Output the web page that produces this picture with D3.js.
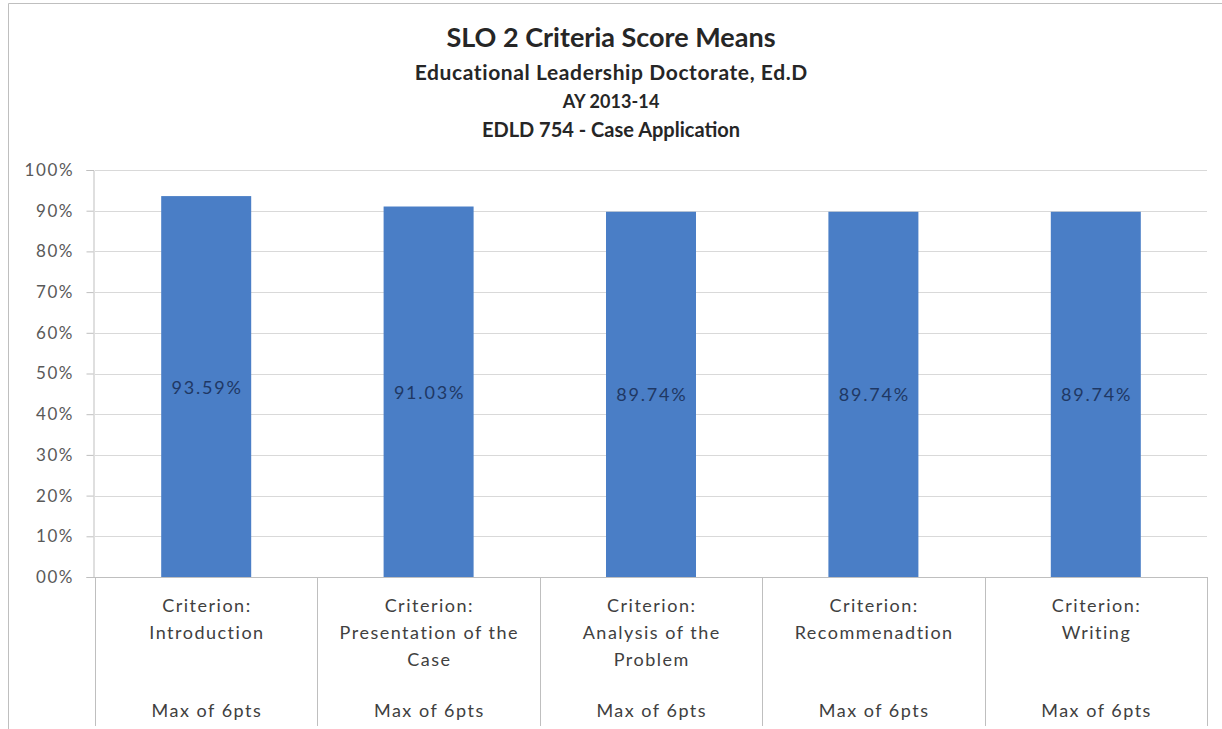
<!DOCTYPE html>
<html><head><meta charset="utf-8">
<script src="https://cdn.jsdelivr.net/npm/d3@7"></script>
<style>
html,body{margin:0;padding:0;background:#fff;}
svg{display:block;font-family:Lato,"Liberation Sans",sans-serif;}
</style></head>
<body><svg id="c" width="1222" height="729"></svg>
<script>
const titleLines = ["SLO 2 Criteria Score Means","Educational Leadership Doctorate, Ed.D","AY 2013-14","EDLD 754 - Case Application"];
const categories = [
  ["Criterion:","Introduction"],
  ["Criterion:","Presentation of the","Case"],
  ["Criterion:","Analysis of the","Problem"],
  ["Criterion:","Recommenadtion"],
  ["Criterion:","Writing"]
];
const subLabels = ["Max of 6pts","Max of 6pts","Max of 6pts","Max of 6pts","Max of 6pts"];
const values = [93.59, 91.03, 89.74, 89.74, 89.74];
const yTicks = [0,10,20,30,40,50,60,70,80,90,100];

const svg = d3.select("#c");
const L = 95, R = 1207, T = 170, B = 577, bottomEnd = 726;

// outer border
svg.append("path").attr("d","M8.5,729 V3.5 H1222").attr("fill","none").attr("stroke","#bfbfbf").attr("stroke-width",1);

// title
const tSizes = [27,21,18,20], tY = [47,80,108,137], tLs = [0,0.6,0.1,0];
titleLines.forEach((t,i)=>{
  svg.append("text").attr("x",611 + tLs[i]/2).attr("y",tY[i]).attr("text-anchor","middle")
    .attr("font-weight","bold").attr("font-size",tSizes[i]).attr("letter-spacing",tLs[i])
    .attr("fill","#262626").text(t);
});

const x = d3.scaleBand().domain(d3.range(values.length)).range([L,R]).paddingInner(0).paddingOuter(0);
const y = d3.scaleLinear().domain([0,100]).range([B,T]);

// gridlines
svg.append("g").selectAll("line").data(yTicks.filter(d=>d>0)).join("line")
  .attr("x1",L).attr("x2",R).attr("y1",d=>Math.round(y(d))+0.5).attr("y2",d=>Math.round(y(d))+0.5)
  .attr("stroke","#d9d9d9").attr("stroke-width",1);

// y axis
const yAxis = d3.axisLeft(y).tickValues(yTicks).tickSize(7).tickPadding(14)
  .tickFormat(d=>String(d).padStart(2,"0")+"%");
const ga = svg.append("g").attr("transform",`translate(${L-1.5},0)`).call(yAxis);
ga.select(".domain").attr("stroke","#bfbfbf");
ga.selectAll(".tick line").attr("stroke","#bfbfbf");
ga.selectAll(".tick text").attr("font-size",17).attr("letter-spacing",1.6).attr("dx",1.6)
  .attr("fill","#595959").attr("font-family","Lato,sans-serif");

// bars
const bw = 90;
svg.append("g").selectAll("rect").data(values).join("rect")
  .attr("x",(d,i)=>x(i)+x.bandwidth()/2-bw/2).attr("width",bw)
  .attr("y",d=>y(d)).attr("height",d=>B-y(d))
  .attr("fill","#4a7ec6");

// bar labels
svg.append("g").selectAll("text").data(values).join("text")
  .attr("x",(d,i)=>x(i)+x.bandwidth()/2+0.9).attr("y",d=>(y(d)+B)/2+7)
  .attr("text-anchor","middle").attr("font-size",18).attr("letter-spacing",1.8).attr("fill","#1f3864")
  .text(d=>d.toFixed(2)+"%");

// x axis line
svg.append("line").attr("x1",L-8).attr("x2",R).attr("y1",B+0.5).attr("y2",B+0.5).attr("stroke","#bfbfbf");
// category dividers
svg.append("g").selectAll("line").data(d3.range(values.length+1)).join("line")
  .attr("x1",i=>Math.round(i<values.length?x(i):R)+0.5).attr("x2",i=>Math.round(i<values.length?x(i):R)+0.5)
  .attr("y1",B).attr("y2",bottomEnd).attr("stroke","#bfbfbf");

// category labels
const cg = svg.append("g");
categories.forEach((lines,i)=>{
  const cx = x(i)+x.bandwidth()/2 + 0.75;
  lines.forEach((t,j)=>{
    cg.append("text").attr("x",cx).attr("y",612+j*27).attr("text-anchor","middle")
      .attr("font-size",18).attr("letter-spacing",1.5).attr("fill","#404040").text(t);
  });
  cg.append("text").attr("x",cx).attr("y",717).attr("text-anchor","middle")
    .attr("font-size",18).attr("letter-spacing",1.5).attr("fill","#404040").text(subLabels[i]);
});
</script></body></html>
